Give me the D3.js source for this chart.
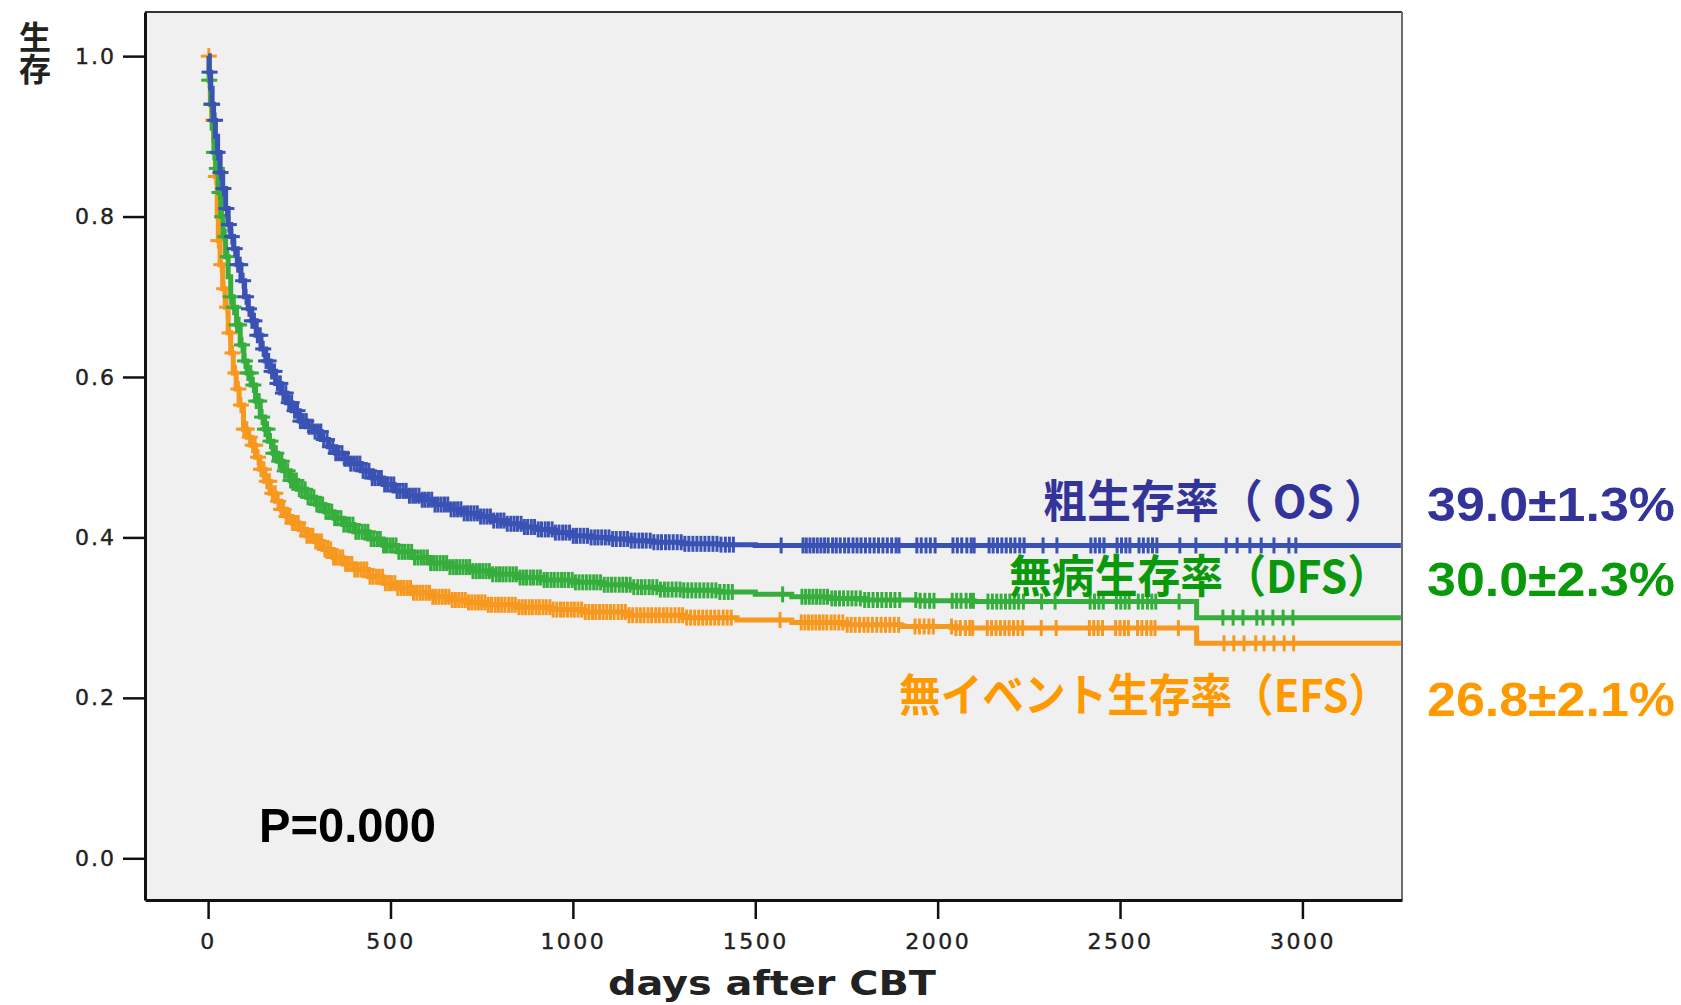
<!DOCTYPE html>
<html>
<head>
<meta charset="utf-8">
<script src="https://cdn.jsdelivr.net/npm/d3@7"></script>
<style>
  html, body { margin: 0; padding: 0; background: #ffffff; }
  svg { display: block; }
</style>
</head>
<body>
<svg id="chart" width="1681" height="1005"></svg>
<script>
// Kaplan-Meier step points: day after CBT and survival probability
const osDays  = [0, 3, 7, 11, 15, 20, 26, 33, 40, 48, 55, 62, 70, 80, 90, 100, 110, 120, 132, 145, 158, 170, 185, 200, 215, 230, 250, 270, 290, 310, 330, 350, 370, 390, 420, 450, 480, 510, 545, 580, 620, 660, 700, 740, 780, 820, 860, 900, 950, 1000, 1050, 1100, 1160, 1220, 1300, 1400, 1500, 3270];
const osSurv  = [1.0, 0.98, 0.96, 0.94, 0.92, 0.90, 0.88, 0.855, 0.835, 0.81, 0.79, 0.775, 0.76, 0.74, 0.72, 0.70, 0.685, 0.67, 0.652, 0.635, 0.62, 0.607, 0.592, 0.58, 0.568, 0.558, 0.545, 0.538, 0.532, 0.522, 0.513, 0.505, 0.498, 0.492, 0.483, 0.474, 0.466, 0.458, 0.452, 0.447, 0.441, 0.435, 0.43, 0.426, 0.421, 0.417, 0.413, 0.41, 0.406, 0.402, 0.40, 0.398, 0.396, 0.394, 0.392, 0.391, 0.39, 0.39];

const dfsDays = [0, 3, 7, 11, 16, 21, 28, 35, 41, 48, 55, 62, 69, 78, 88, 98, 107, 118, 130, 143, 155, 165, 178, 190, 205, 225, 245, 270, 295, 320, 345, 370, 400, 440, 480, 520, 560, 610, 663, 720, 780, 847, 920, 1000, 1080, 1160, 1240, 1302, 1400, 1500, 1600, 1700, 1800, 1950, 2100, 2710, 3270];
const dfsSurv = [1.0, 0.97, 0.94, 0.91, 0.88, 0.86, 0.83, 0.80, 0.775, 0.75, 0.725, 0.70, 0.687, 0.665, 0.64, 0.62, 0.605, 0.59, 0.57, 0.55, 0.535, 0.52, 0.505, 0.495, 0.483, 0.471, 0.46, 0.45, 0.441, 0.432, 0.424, 0.416, 0.407, 0.398, 0.39, 0.382, 0.375, 0.368, 0.363, 0.358, 0.354, 0.35, 0.347, 0.344, 0.341, 0.338, 0.335, 0.334, 0.332, 0.329, 0.326, 0.324, 0.322, 0.321, 0.32, 0.30, 0.30];

const efsDays = [0, 3, 6, 10, 15, 20, 25, 28, 33, 40, 47, 55, 62, 69, 77, 85, 97, 107, 118, 130, 142, 155, 170, 185, 200, 215, 230, 250, 270, 290, 315, 343, 370, 400, 440, 480, 520, 560, 610, 663, 710, 760, 847, 940, 1028, 1150, 1302, 1450, 1600, 1750, 1900, 2050, 2710, 3270];
const efsSurv = [1.0, 0.97, 0.94, 0.92, 0.895, 0.85, 0.80, 0.77, 0.74, 0.71, 0.687, 0.655, 0.63, 0.605, 0.585, 0.565, 0.535, 0.525, 0.515, 0.50, 0.485, 0.47, 0.455, 0.445, 0.435, 0.426, 0.418, 0.41, 0.402, 0.395, 0.385, 0.375, 0.367, 0.36, 0.351, 0.343, 0.337, 0.331, 0.326, 0.322, 0.319, 0.316, 0.313, 0.31, 0.307, 0.303, 0.30, 0.297, 0.294, 0.291, 0.289, 0.287, 0.268, 0.268];

// Censored observations (days)
const osCensor = [4, 11, 19, 26, 34, 42, 50, 57, 65, 73, 81, 88, 96, 104, 112, 120, 127, 135, 143, 151, 159, 166, 174, 182, 190, 198, 205, 213, 221, 229, 237, 245, 253, 261, 269, 277, 285, 293, 301, 309, 317, 326, 334, 342, 350, 358, 367, 375, 383, 391, 400, 408, 416, 425, 433, 441, 450, 458, 467, 475, 484, 492, 501, 509, 518, 526, 535, 543, 552, 561, 569, 578, 587, 595, 604, 613, 622, 630, 639, 648, 657, 666, 675, 684, 693, 702, 711, 720, 729, 738, 747, 756, 765, 774, 783, 793, 802, 811, 820, 830, 839, 848, 858, 867, 876, 886, 895, 905, 914, 924, 933, 943, 952, 962, 972, 981, 991, 1001, 1010, 1020, 1030, 1040, 1050, 1060, 1069, 1079, 1089, 1099, 1109, 1119, 1130, 1140, 1150, 1160, 1170, 1181, 1191, 1201, 1212, 1222, 1233, 1243, 1254, 1264, 1275, 1286, 1297, 1307, 1318, 1329, 1340, 1351, 1362, 1373, 1384, 1395, 1406, 1418, 1429, 1440, 1571, 1631, 1640, 1650, 1660, 1670, 1680, 1690, 1700, 1712, 1722, 1733, 1745, 1756, 1768, 1779, 1790, 1802, 1814, 1826, 1838, 1850, 1862, 1874, 1886, 1894, 1943, 1955, 1968, 1980, 1993, 2042, 2054, 2066, 2080, 2092, 2100, 2141, 2152, 2164, 2176, 2188, 2200, 2212, 2225, 2237, 2289, 2327, 2420, 2432, 2444, 2456, 2492, 2504, 2516, 2527, 2552, 2564, 2577, 2589, 2601, 2664, 2708, 2791, 2821, 2856, 2887, 2922, 2963, 2982];
const dfsCensor = [3, 9, 16, 24, 31, 39, 47, 54, 62, 70, 78, 85, 93, 101, 109, 117, 124, 132, 140, 148, 156, 163, 171, 179, 187, 195, 202, 210, 218, 226, 234, 242, 250, 258, 266, 274, 282, 290, 298, 306, 314, 323, 331, 339, 347, 355, 364, 372, 380, 388, 397, 405, 413, 422, 430, 438, 447, 455, 464, 472, 481, 489, 498, 506, 515, 523, 532, 540, 549, 558, 566, 575, 584, 592, 601, 610, 619, 627, 636, 645, 654, 663, 672, 681, 690, 699, 708, 717, 726, 735, 744, 753, 762, 771, 780, 790, 799, 808, 817, 827, 836, 845, 855, 864, 873, 883, 892, 902, 911, 921, 930, 940, 949, 959, 969, 978, 988, 998, 1007, 1017, 1027, 1037, 1047, 1057, 1066, 1076, 1086, 1096, 1106, 1116, 1127, 1137, 1147, 1157, 1167, 1178, 1188, 1198, 1209, 1219, 1230, 1240, 1251, 1261, 1272, 1283, 1294, 1304, 1315, 1326, 1337, 1348, 1359, 1370, 1381, 1392, 1403, 1415, 1426, 1437, 1575, 1628, 1638, 1648, 1658, 1668, 1678, 1688, 1698, 1710, 1720, 1731, 1742, 1754, 1765, 1776, 1788, 1800, 1811, 1823, 1835, 1847, 1859, 1871, 1883, 1896, 1940, 1952, 1965, 1978, 1990, 2040, 2052, 2064, 2078, 2090, 2098, 2138, 2150, 2162, 2174, 2186, 2198, 2210, 2222, 2235, 2285, 2322, 2418, 2430, 2442, 2454, 2490, 2502, 2514, 2525, 2550, 2562, 2575, 2587, 2598, 2662, 2782, 2810, 2837, 2875, 2892, 2919, 2947, 2974];
const efsCensor = [2, 8, 14, 21, 28, 36, 44, 52, 59, 67, 75, 83, 90, 98, 106, 114, 122, 129, 137, 145, 153, 161, 168, 176, 184, 192, 200, 207, 215, 223, 231, 239, 247, 255, 263, 271, 279, 287, 295, 303, 311, 320, 328, 336, 344, 352, 361, 369, 377, 385, 394, 402, 410, 419, 427, 435, 444, 452, 461, 469, 478, 486, 495, 503, 512, 520, 529, 537, 546, 555, 563, 572, 581, 589, 598, 607, 616, 624, 633, 642, 651, 660, 669, 678, 687, 696, 705, 714, 723, 732, 741, 750, 759, 768, 777, 787, 796, 805, 814, 824, 833, 842, 852, 861, 870, 880, 889, 899, 908, 918, 927, 937, 946, 956, 966, 975, 985, 995, 1004, 1014, 1024, 1034, 1044, 1054, 1063, 1073, 1083, 1093, 1103, 1113, 1124, 1134, 1144, 1154, 1164, 1175, 1185, 1195, 1206, 1216, 1227, 1237, 1248, 1258, 1269, 1280, 1291, 1301, 1312, 1323, 1334, 1345, 1356, 1367, 1378, 1389, 1400, 1412, 1423, 1434, 1568, 1626, 1636, 1646, 1656, 1666, 1676, 1686, 1696, 1708, 1718, 1729, 1740, 1752, 1763, 1774, 1786, 1798, 1809, 1821, 1833, 1845, 1857, 1869, 1881, 1893, 1938, 1950, 1963, 1976, 1988, 2038, 2050, 2062, 2076, 2088, 2096, 2136, 2148, 2160, 2172, 2184, 2196, 2208, 2220, 2233, 2284, 2325, 2416, 2428, 2440, 2452, 2488, 2500, 2512, 2523, 2548, 2560, 2573, 2585, 2596, 2660, 2785, 2812, 2840, 2872, 2895, 2922, 2950, 2976];

// Axis ticks
const xTicks = [0, 500, 1000, 1500, 2000, 2500, 3000];
const yTicks = [0.0, 0.2, 0.4, 0.6, 0.8, 1.0];

// Titles, series labels and summary rates
const xTitle = "days after CBT";
const yTitle = "生存";
const seriesNames = ["粗生存率（ OS ）", "無病生存率（DFS）", "無イベント生存率（EFS）"];
const seriesRates = ["39.0±1.3%", "30.0±2.3%", "26.8±2.1%"];
const pLabel = "P=0.000";

const svg = d3.select("#chart");
const W = 1681, H = 1005;
const plot = { left: 145, right: 1402, top: 12, bottom: 900 };

svg.append("rect").attr("width", W).attr("height", H).attr("fill", "#ffffff");

const x = d3.scaleLinear().domain([-173, 3273]).range([plot.left, plot.right]);
const y = d3.scaleLinear().domain([-0.052, 1.055]).range([plot.bottom, plot.top]);

// plot panel
svg.append("rect")
  .attr("x", plot.left).attr("y", plot.top)
  .attr("width", plot.right - plot.left).attr("height", plot.bottom - plot.top)
  .attr("fill", "#f0f0f0");

svg.append("defs").append("clipPath").attr("id", "clip")
  .append("rect")
  .attr("x", plot.left).attr("y", plot.top)
  .attr("width", plot.right - plot.left).attr("height", plot.bottom - plot.top);

// top and right frame lines
svg.append("line").attr("x1", plot.left).attr("x2", plot.right).attr("y1", plot.top).attr("y2", plot.top)
  .attr("stroke", "#333").attr("stroke-width", 2);
svg.append("line").attr("x1", plot.right).attr("x2", plot.right).attr("y1", plot.top).attr("y2", plot.bottom)
  .attr("stroke", "#6e6e6e").attr("stroke-width", 2);

const tickFont = "'DejaVu Sans', sans-serif";

// y axis
const yAxis = svg.append("g")
  .attr("transform", `translate(${plot.left},0)`)
  .call(d3.axisLeft(y).tickValues(yTicks).tickFormat(d3.format(".1f")).tickSize(22).tickSizeOuter(0).tickPadding(7));
yAxis.select(".domain").attr("stroke", "#111").attr("stroke-width", 3);
yAxis.selectAll(".tick line").attr("stroke", "#111").attr("stroke-width", 2.5);
yAxis.selectAll(".tick text")
  .attr("font-family", tickFont).attr("font-size", 22).attr("fill", "#222")
  .attr("stroke", "#222").attr("stroke-width", 0.4)
  .attr("letter-spacing", 2);

// x axis
const xAxis = svg.append("g")
  .attr("transform", `translate(0,${plot.bottom})`)
  .call(d3.axisBottom(x).tickValues(xTicks).tickFormat(d3.format("d")).tickSize(19).tickSizeOuter(0).tickPadding(14));
xAxis.select(".domain").attr("stroke", "#111").attr("stroke-width", 3);
xAxis.selectAll(".tick line").attr("stroke", "#111").attr("stroke-width", 2.5);
xAxis.selectAll(".tick text")
  .attr("font-family", tickFont).attr("font-size", 22).attr("fill", "#222")
  .attr("stroke", "#222").attr("stroke-width", 0.4)
  .attr("letter-spacing", 2.5);

// axis titles
svg.append("text")
  .attr("x", 772).attr("y", 995)
  .attr("text-anchor", "middle")
  .attr("font-family", "'DejaVu Sans', sans-serif").attr("font-weight", "bold")
  .attr("font-size", 33).attr("fill", "#222")
  .attr("textLength", 328).attr("lengthAdjust", "spacingAndGlyphs")
  .text(xTitle);

// vertical y-axis title, characters stacked top to bottom
svg.append("text")
  .attr("x", 35).attr("y", 21)
  .attr("writing-mode", "vertical-rl")
  .attr("font-family", "'Noto Sans CJK JP', sans-serif").attr("font-weight", "bold")
  .attr("font-size", 32).attr("fill", "#222")
  .text(yTitle);

// survival curves
const series = [
  { days: osDays,  surv: osSurv,  censor: osCensor,  color: "#3a52b4" },
  { days: dfsDays, surv: dfsSurv, censor: dfsCensor, color: "#36ae3d" },
  { days: efsDays, surv: efsSurv, censor: efsCensor, color: "#f7981f" }
];

const line = d3.line()
  .x(d => x(d[0]))
  .y(d => y(d[1]))
  .curve(d3.curveStepAfter);

const survAt = (s, t) => s.surv[Math.max(0, d3.bisectRight(s.days, t) - 1)];

const curves = svg.append("g").attr("clip-path", "url(#clip)");
const arm = 8;

// draw in reverse so OS sits on top
series.slice().reverse().forEach(s => {
  const g = curves.append("g");
  g.append("path")
    .datum(s.days.map((d, i) => [d, s.surv[i]]))
    .attr("fill", "none")
    .attr("stroke", s.color)
    .attr("stroke-width", 5)
    .attr("d", line);

  const marks = g.selectAll("g.censor")
    .data(s.censor)
    .join("g")
    .attr("class", "censor")
    .attr("transform", t => `translate(${x(t)},${y(survAt(s, t))})`);
  marks.append("line").attr("x1", 0).attr("x2", 0).attr("y1", -arm).attr("y2", arm)
    .attr("stroke", s.color).attr("stroke-width", 3);
  marks.append("line").attr("x1", -arm).attr("x2", arm).attr("y1", 0).attr("y2", 0)
    .attr("stroke", s.color).attr("stroke-width", 3);
});

// p-value
svg.append("text")
  .attr("x", 259).attr("y", 842)
  .attr("font-family", "'Liberation Sans', Arial, sans-serif").attr("font-weight", "bold")
  .attr("font-size", 49).attr("fill", "#000")
  .attr("textLength", 177).attr("lengthAdjust", "spacingAndGlyphs")
  .text(pLabel);

// series labels and rates
const labelSpec = [
  { nameColor: "#33349a", nameBase: 518, nameStart: 1043, nameEnd: 1388, rateBase: 521 },
  { nameColor: "#0a990a", nameBase: 593, nameStart: 1009, nameEnd: 1390, rateBase: 596 },
  { nameColor: "#ff9900", nameBase: 712, nameStart: 899, nameEnd: 1390, rateBase: 716 }
];

seriesNames.forEach((name, i) => {
  const sp = labelSpec[i];
  svg.append("text")
    .attr("x", sp.nameStart).attr("y", sp.nameBase)
    .attr("font-family", "'Noto Sans CJK JP', sans-serif").attr("font-weight", "bold")
    .attr("font-size", 45).attr("fill", sp.nameColor)
    .attr("textLength", sp.nameEnd - sp.nameStart).attr("lengthAdjust", "spacingAndGlyphs")
    .text(name);
  svg.append("text")
    .attr("x", 1427).attr("y", sp.rateBase)
    .attr("font-family", "'Liberation Sans', Arial, sans-serif").attr("font-weight", "bold")
    .attr("font-size", 48).attr("fill", sp.nameColor)
    .attr("textLength", 248).attr("lengthAdjust", "spacingAndGlyphs")
    .text(seriesRates[i]);
});
</script>
</body>
</html>
